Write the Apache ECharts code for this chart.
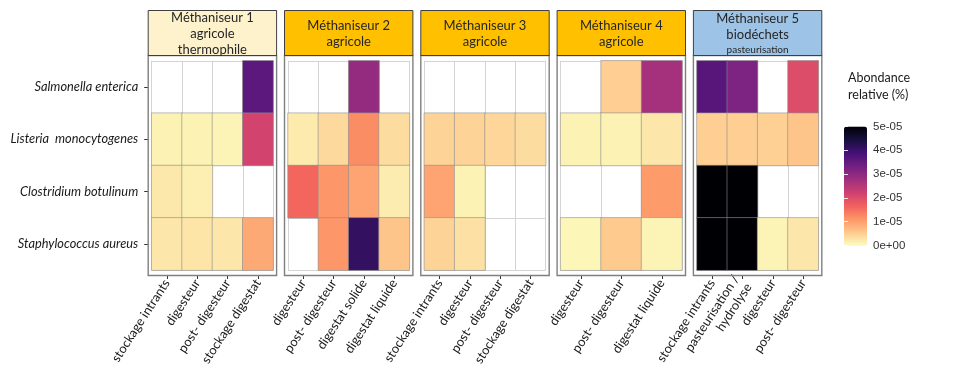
<!DOCTYPE html>
<html><head><meta charset="utf-8">
<script src="https://cdn.jsdelivr.net/npm/echarts@6/dist/echarts.min.js"></script>
<style>html,body{margin:0;padding:0;background:#fff}#c{width:960px;height:381px}</style>
</head><body><div id="c"></div>
<script>
// ---- data ----
const species = ['Salmonella enterica', 'Listeria  monocytogenes', 'Clostridium botulinum', 'Staphylococcus aureus'];
const headers = ['Méthaniseur 1\nagricole\nthermophile', 'Méthaniseur 2\nagricole', 'Méthaniseur 3\nagricole', 'Méthaniseur 4\nagricole', 'Méthaniseur 5\nbiodéchets'];
const headerSub5 = 'pasteurisation';
const stages1 = ['stockage intrants', 'digesteur', 'post- digesteur', 'stockage digestat'];
const stages2 = ['digesteur', 'post- digesteur', 'digestat solide', 'digestat liquide'];
const stages3 = ['stockage intrants', 'digesteur', 'post- digesteur', 'stockage digestat'];
const stages4 = ['digesteur', 'post- digesteur', 'digestat liquide'];
const stages5 = ['stockage intrants', 'pasteurisation /\nhydrolyse', 'digesteur', 'post- digesteur'];
// rows follow species order; null = not detected
const values1 = [
  [null, null, null, 3.6e-5],
  [0.12e-5, 0.12e-5, 0.1e-5, 2.15e-5],
  [0.22e-5, 0.15e-5, null, null],
  [0.25e-5, 0.27e-5, 0.25e-5, 0.9e-5]];
const values2 = [
  [null, null, 2.9e-5, null],
  [0.2e-5, 0.38e-5, 1.2e-5, 0.35e-5],
  [1.6e-5, 1.1e-5, 0.95e-5, 0.18e-5],
  [null, 1.1e-5, 4.1e-5, 0.6e-5]];
const values3 = [
  [null, null, null, null],
  [0.45e-5, 0.45e-5, 0.42e-5, 0.35e-5],
  [0.95e-5, 0.12e-5, null, null],
  [0.45e-5, 0.3e-5, null, null]];
const values4 = [
  [null, 0.5e-5, 2.7e-5],
  [0.12e-5, 0.12e-5, 0.25e-5],
  [null, null, 1.05e-5],
  [0.08e-5, 0.55e-5, 0.1e-5]];
const values5 = [
  [3.65e-5, 3.2e-5, null, 2.0e-5],
  [0.5e-5, 0.5e-5, 0.48e-5, 0.6e-5],
  [5e-5, 5e-5, null, null],
  [5e-5, 5e-5, 0.1e-5, 0.25e-5]];
const legendTicks = [0, 1e-5, 2e-5, 3e-5, 4e-5, 5e-5];
const legendLabels = ['0e+00', '1e-05', '2e-05', '3e-05', '4e-05', '5e-05'];
const legendTitle = 'Abondance\nrelative (%)';

// ---- layout / style ----
const stagesAll = [stages1, stages2, stages3, stages4, stages5];
const valuesAll = [values1, values2, values3, values4, values5];
const headerFills = ['#FEF2CD', '#FFC000', '#FFC000', '#FFC000', '#9DC3E6'];
const magma = ['#FCFDBF', '#FEC98D', '#FD9567', '#F1605D', '#CD4071', '#9F2F7F', '#721F81', '#451077', '#180F3E', '#000004'];
const P0 = 148.2, PSTEP = 136.3, PW = 128.4, INSET = 3.5;
const OUT_TOP = 55.5, OUT_BOT = 275.5, CELL_TOP = 60.8, CELL_BOT = 270.2;
const HEAD_TOP = 10.5;
const FONT = 'Lato';

const grids = [], xAxes = [], yAxes = [], series = [], graphics = [];
stagesAll.forEach((st, i) => {
  const ox = P0 + i * PSTEP;
  grids.push({left: ox + INSET, top: CELL_TOP, width: PW - 2 * INSET, height: CELL_BOT - CELL_TOP});
  xAxes.push({
    type: 'category', gridIndex: i, data: st, position: 'bottom', offset: OUT_BOT - CELL_BOT,
    axisLine: {show: false},
    axisTick: {show: true, alignWithLabel: true, length: 3.5, lineStyle: {color: '#333', width: 1}},
    axisLabel: {interval: 0, rotate: 57, fontSize: 12.8, fontFamily: FONT, color: '#1a1a1a', margin: 5, lineHeight: 15},
    splitLine: {show: true, lineStyle: {color: '#d4d4d4', width: 1}}
  });
  yAxes.push({
    type: 'category', gridIndex: i, data: species, inverse: true, offset: INSET,
    axisLine: {show: false},
    axisTick: {show: i === 0, alignWithLabel: true, length: 4, lineStyle: {color: '#333', width: 1}},
    axisLabel: {show: i === 0, fontSize: 12.8, fontStyle: 'italic', fontFamily: FONT, color: '#1a1a1a', margin: 10},
    splitLine: {show: true, lineStyle: {color: '#d4d4d4', width: 1}}
  });
  const data = [];
  valuesAll[i].forEach((row, r) => row.forEach((v, c) => { if (v !== null) data.push([c, r, v]); }));
  series.push({
    type: 'heatmap', xAxisIndex: i, yAxisIndex: i, data: data,
    itemStyle: {borderColor: '#8e8e8e', borderWidth: 0.6},
    emphasis: {disabled: true}, silent: true
  });
  graphics.push({type: 'rect', silent: true, z: 10,
    shape: {x: ox, y: OUT_TOP, width: PW, height: OUT_BOT - OUT_TOP},
    style: {fill: null, stroke: '#7f7f7f', lineWidth: 1.4}});
  graphics.push({type: 'rect', silent: true, z: 11,
    shape: {x: ox, y: HEAD_TOP, width: PW, height: OUT_TOP - HEAD_TOP},
    style: {fill: headerFills[i], stroke: '#3f3f3f', lineWidth: 1}});
  const cx = ox + PW / 2;
  const txt = i === 4 ? '{m|' + headers[i].split('\n').join('}\n{m|') + '}\n{s|' + headerSub5 + '}' : headers[i];
  graphics.push({type: 'text', silent: true, z: 12,
    x: cx, y: (HEAD_TOP + OUT_TOP) / 2 + 0.5,
    style: {text: txt, fill: '#262626', font: '13px ' + FONT, align: 'center', verticalAlign: 'middle',
      lineHeight: 16,
      rich: {m: {font: '13px ' + FONT, lineHeight: 16, fill: '#262626'}, s: {font: '10px ' + FONT, lineHeight: 14, fill: '#262626'}}}});
});

// legend colour bar axis (grid 5)
const LB = {left: 844, top: 126.5, width: 23, height: 119};
grids.push({left: LB.left, top: LB.top, width: LB.width, height: LB.height});
xAxes.push({type: 'value', gridIndex: 5, show: false, min: 0, max: 1});
yAxes.push({type: 'value', gridIndex: 5, position: 'right', min: legendTicks[0], max: legendTicks[legendTicks.length - 1], interval: legendTicks[1] - legendTicks[0],
  axisLine: {show: false}, splitLine: {show: false},
  axisTick: {show: true, inside: true, length: 4, lineStyle: {color: 'rgba(255,255,255,0.85)', width: 1}},
  axisLabel: {margin: 6, fontSize: 11.5, fontFamily: 'Liberation Sans', color: '#333',
    formatter: (v) => { const k = legendTicks.findIndex(t => Math.abs(t - v) < 1e-12); return k >= 0 ? legendLabels[k] : ''; }}, z: 20});
yAxes.push({type: 'value', gridIndex: 5, position: 'left', min: legendTicks[0], max: legendTicks[legendTicks.length - 1], interval: legendTicks[1] - legendTicks[0],
  axisLine: {show: false}, splitLine: {show: false}, axisLabel: {show: false},
  axisTick: {show: true, inside: true, length: 4, lineStyle: {color: 'rgba(255,255,255,0.85)', width: 1}}, z: 20});
graphics.push({type: 'text', silent: true, x: 848, y: 69,
  style: {text: legendTitle, font: '12.5px ' + FONT, fill: '#1a1a1a', lineHeight: 17, align: 'left', verticalAlign: 'top'}});

const chart = echarts.init(document.getElementById('c'), null, {renderer: 'canvas'});
chart.setOption({
  animation: false,
  backgroundColor: '#ffffff',
  grid: grids, xAxis: xAxes, yAxis: yAxes, series: series,
  visualMap: {
    type: 'continuous', min: legendTicks[0], max: legendTicks[legendTicks.length - 1], calculable: false, show: true,
    seriesIndex: [0, 1, 2, 3, 4], orient: 'vertical', left: LB.left, top: LB.top, padding: 0,
    itemWidth: LB.width, itemHeight: LB.height, text: null, showLabel: false,
    inRange: {color: magma}
  },
  graphic: graphics
});
</script></body></html>
